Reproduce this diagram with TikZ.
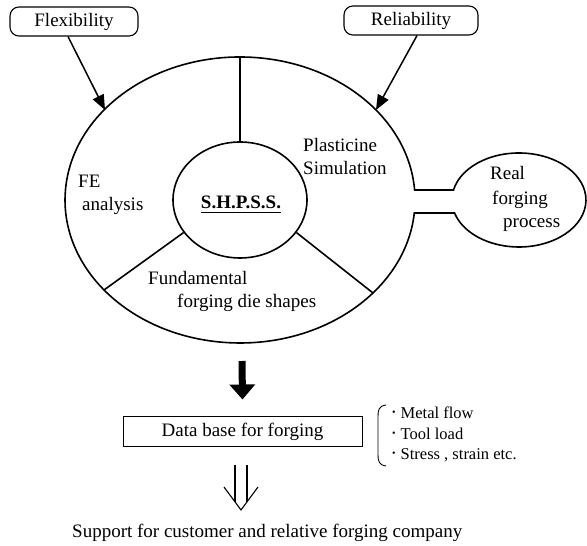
\documentclass[tikz,border=0pt]{standalone}
\usepackage{fontspec}
\setmainfont{Liberation Serif}
\usetikzlibrary{arrows.meta,shapes.geometric,calc}
\newcommand{\bulmark}{{\fontsize{10pt}{10pt}\selectfont\raisebox{3.5pt}{\textbullet}}\hspace{5pt}}
\begin{document}
\begin{tikzpicture}[x=1pt,y=1pt,
  every node/.style={font=\fontsize{19pt}{23pt}\selectfont, inner sep=0pt},
  lbl/.style={anchor=base west},
  topbox/.style={draw, line width=1.1pt, rounded corners=9pt, minimum width=#1, minimum height=29pt},
  ring/.style={line width=1.6pt},
  feed/.style={line width=1.5pt, -{Triangle[length=15pt,width=12pt]}},
  small/.style={anchor=base west, font=\fontsize{16.5pt}{20pt}\selectfont},
  thin/.style={line width=1.1pt},
]
\useasboundingbox (0,0) rectangle (587,546);

% top boxes
\node[topbox=128pt] (flex) at (74,524.5) {Flexibility};
\node[topbox=134pt] (rel) at (411,525.5) {Reliability};

% outer ring with neck to the real-process ellipse
\draw[ring] (414.6,356) -- (453.5,356)
  arc[start angle=167.72, end angle=-163.94, x radius=67, y radius=47]
  -- (414.3,333)
  arc[start angle=-5.22, end angle=-355.99, x radius=175, y radius=143] -- cycle;

% core
\node[ellipse, draw, ring, minimum width=134pt, minimum height=116pt] (core) at (240,346) {};
\coordinate (otop) at (240,489);
\coordinate (oll) at (104,256);
\coordinate (olr) at (373,253);
\draw[ring] (otop) -- (core.north);
\draw[ring] (core.210) -- (oll);
\draw[ring] (core.330) -- (olr);

% feed arrows
\coordinate (fin) at (105,436);
\coordinate (rin) at (376,436);
\draw[feed] ([xshift=-6pt]flex.south) -- (fin);
\draw[feed] ([xshift=6pt]rel.south) -- (rin);

% labels in the ring
\node[lbl] (fe) at (78,358) {FE};
\node[lbl] (ana) at (82,335) {analysis};
\node[lbl] (pl) at (303,394) {Plasticine};
\node[lbl] (sim) at (303,371) {Simulation};
\node[anchor=base, font=\fontsize{19pt}{23pt}\selectfont\bfseries] (sh) at (241,337) {S.H.P.S.S.};
\draw[line width=1.1pt] ([yshift=-3.5pt]sh.base west) -- ([yshift=-3.5pt]sh.base east);
\node[lbl] (fun) at (148,261) {Fundamental};
\node[lbl] (fds) at (177,238) {forging die shapes};
\node[lbl] (real) at (490,366) {Real};
\node[lbl] (frg) at (492,341) {forging};
\node[lbl] (proc) at (503,318) {process};

% data base
\node[draw, line width=1pt, minimum width=239pt, minimum height=30pt] (db) at (242.5,114) {Data base for forging};
\coordinate (thk) at (242,185);
\draw[line width=7pt, -{Triangle[length=15pt,width=25pt]}] (thk) -- ([yshift=17pt]db.north);

% bracket and list
\draw[line width=0.9pt] (386,141) .. controls (379,140) and (378,136) .. (378,130) -- (378,91) .. controls (378,85) and (379,81) .. (386,80);
\node[small] (b1) at (392,127) {\bulmark Metal flow};
\node[small] (b2) at (392,106) {\bulmark Tool load};
\node[small] (b3) at (392,86) {\bulmark Stress , strain etc.};

% hollow arrow
\coordinate (hl) at (235,81);
\coordinate (hr) at (247,81);
\draw[thin] (hl) -- (235,44.1);
\draw[thin] (hr) -- (247,44.1);
\draw[thin, line join=miter] (224,59) -- (241,36) -- (258,59);

% bottom text
\node[lbl] (sup) at (72,8) {Support for customer and relative forging company};
\end{tikzpicture}
\end{document}
